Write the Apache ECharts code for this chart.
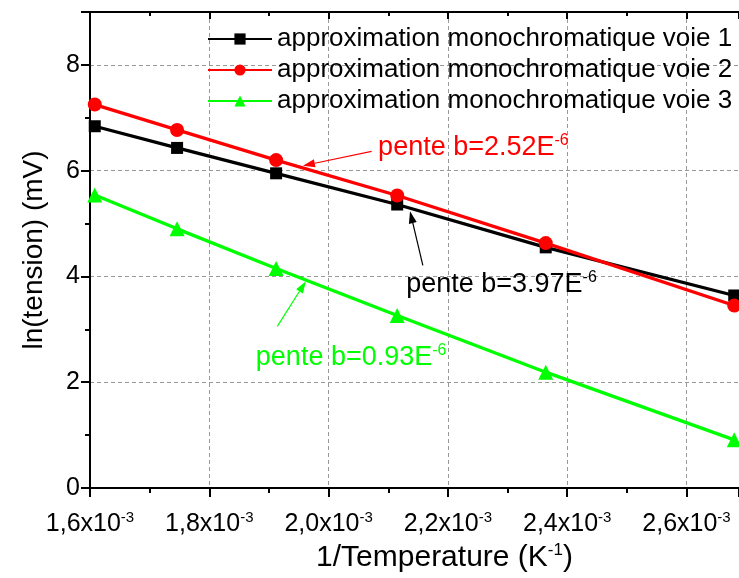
<!DOCTYPE html>
<html>
<head>
<meta charset="UTF-8">
<title>ln(tension)</title>
<script src="https://cdn.jsdelivr.net/npm/echarts@6/dist/echarts.min.js"></script>
</head>
<body style="margin:0;padding:0;background:#fff;">
<div id="main" style="width:739px;height:578px;"></div>
<script>
// donnees
var tempInv = [1.608e-3, 1.746e-3, 1.912e-3, 2.115e-3, 2.364e-3, 2.680e-3];
var voie1 = [6.84, 6.43, 5.95, 5.36, 4.55, 3.64];
var voie2 = [7.25, 6.77, 6.20, 5.53, 4.63, 3.45];
var voie3 = [5.54, 4.90, 4.15, 3.26, 2.19, 0.91];
var noms = ['approximation monochromatique voie 1', 'approximation monochromatique voie 2', 'approximation monochromatique voie 3'];
var couleurs = ['#000000', '#ff0000', '#00ff00'];
var symboles = ['rect', 'circle', 'triangle'];
var tailles = [12, 14, 15];
var valeurs = [voie1, voie2, voie3];

// annotations (pente) en coordonnees de donnees
var pentes = [
	{ texte: 'pente b=2.52E', exp: '-6', couleur: '#ff0000', pos: [2.083e-3, 6.43], de: [2.072e-3, 6.364], vers: [1.957e-3, 6.094] },
	{ texte: 'pente b=3.97E', exp: '-6', couleur: '#000000', pos: [2.130e-3, 3.85], de: [2.158e-3, 4.208], vers: [2.1365e-3, 5.232] },
	{ texte: 'pente b=0.93E', exp: '-6', couleur: '#00ff00', pos: [1.878e-3, 2.47], de: [1.914e-3, 3.057], vers: [1.962e-3, 3.911] }
];

var police = 'Liberation Sans, Arial, sans-serif';
var myChart = echarts.init(document.getElementById('main'));

var series = [];
for (var i = 0; i < 3; i++) {
	var pts = [];
	for (var j = 0; j < tempInv.length; j++) {
		pts.push([tempInv[j], valeurs[i][j]]);
	}
	series.push({
		name: noms[i],
		type: 'line',
		data: pts,
		symbol: symboles[i],
		symbolSize: tailles[i],
		showAllSymbol: true,
		clip: false,
		itemStyle: { color: couleurs[i] },
		lineStyle: { color: couleurs[i], width: 3.3 }
	});
}

var axeLigne = { lineStyle: { color: '#000', width: 2 } };
var grille = { show: true, showMaxLine: false, lineStyle: { color: '#999', type: [4, 3], width: 1 } };

var option = {
	animation: false,
	backgroundColor: '#fff',
	textStyle: { fontFamily: police },
	grid: { left: 90, right: 0, top: 12, bottom: 90 },
	legend: {
		orient: 'vertical',
		left: 202,
		top: 21,
		itemWidth: 64,
		itemHeight: 14,
		itemGap: 5,
		textStyle: { fontSize: 26, color: '#000', lineHeight: 26, fontFamily: police },
		data: noms
	},
	xAxis: [{
		type: 'value',
		min: 1.6e-3,
		max: 2.688e-3,
		interval: 0.2e-3,
		position: 'bottom',
		axisLine: axeLigne,
		axisTick: { inside: false, length: 9, lineStyle: { color: '#000', width: 2 } },
		minorTick: { show: true, splitNumber: 2, length: 5, lineStyle: { color: '#000', width: 2 } },
		splitLine: grille,
		axisLabel: {
			margin: 22,
			showMaxLabel: false,
			color: '#000',
			formatter: function (v) {
				return '{a|' + (v * 1000).toFixed(1).replace('.', ',') + 'x10}{s|-3}';
			},
			rich: {
				a: { fontSize: 25, color: '#000', fontFamily: police, lineHeight: 28 },
				s: { fontSize: 15, color: '#000', fontFamily: police, verticalAlign: 'top' }
			}
		},
		name: '{a|1/Temperature (K}{s|-1}{a|)}',
		nameLocation: 'middle',
		nameGap: 52,
		nameTextStyle: {
			padding: [0, 0, 0, 60],
			rich: {
				a: { fontSize: 30, color: '#000', fontFamily: police, lineHeight: 32 },
				s: { fontSize: 17, color: '#000', fontFamily: police, verticalAlign: 'top' }
			}
		}
	}, {
		type: 'value',
		min: 1.6e-3,
		max: 2.688e-3,
		interval: 0.2e-3,
		position: 'top',
		axisLine: axeLigne,
		axisTick: { inside: true, length: 7, lineStyle: { color: '#000', width: 2 } },
		minorTick: { show: true, splitNumber: 2, length: 4, lineStyle: { color: '#000', width: 2 } },
		axisLabel: { show: false },
		splitLine: { show: false }
	}],
	yAxis: {
		type: 'value',
		min: 0,
		max: 9,
		interval: 2,
		axisLine: axeLigne,
		axisTick: { inside: false, length: 9, lineStyle: { color: '#000', width: 2 } },
		minorTick: { show: true, splitNumber: 2, length: 5, lineStyle: { color: '#000', width: 2 } },
		splitLine: grille,
		axisLabel: { fontSize: 25, color: '#000', margin: 10, showMaxLabel: false, fontFamily: police },
		name: 'ln(tension) (mV)',
		nameLocation: 'middle',
		nameGap: 42,
		nameTextStyle: { fontSize: 28, color: '#000', fontFamily: police }
	},
	series: series
};

myChart.setOption(option);

// fleches et textes des pentes
var elements = [];
pentes.forEach(function (p) {
	var pos = myChart.convertToPixel({ xAxisIndex: 0, yAxisIndex: 0 }, p.pos);
	var a = myChart.convertToPixel({ xAxisIndex: 0, yAxisIndex: 0 }, p.de);
	var b = myChart.convertToPixel({ xAxisIndex: 0, yAxisIndex: 0 }, p.vers);
	var dx = b[0] - a[0], dy = b[1] - a[1];
	var l = Math.sqrt(dx * dx + dy * dy);
	var ux = dx / l, uy = dy / l;
	var bx = b[0] - ux * 12, by = b[1] - uy * 12;
	elements.push({
		type: 'line',
		shape: { x1: a[0], y1: a[1], x2: bx, y2: by },
		style: { stroke: p.couleur, lineWidth: 1.2 }
	});
	elements.push({
		type: 'polygon',
		shape: { points: [[b[0], b[1]], [bx - uy * 4, by + ux * 4], [bx + uy * 4, by - ux * 4]] },
		style: { fill: p.couleur }
	});
	elements.push({
		type: 'text',
		x: pos[0],
		y: pos[1],
		style: {
			text: '{a|' + p.texte + '}{s|' + p.exp + '}',
			align: 'left',
			verticalAlign: 'middle',
			rich: {
				a: { fontSize: 27, fill: p.couleur, fontFamily: police, lineHeight: 30 },
				s: { fontSize: 16, fill: p.couleur, fontFamily: police, verticalAlign: 'top' }
			}
		}
	});
});
myChart.setOption({ graphic: elements });
</script>
</body>
</html>
